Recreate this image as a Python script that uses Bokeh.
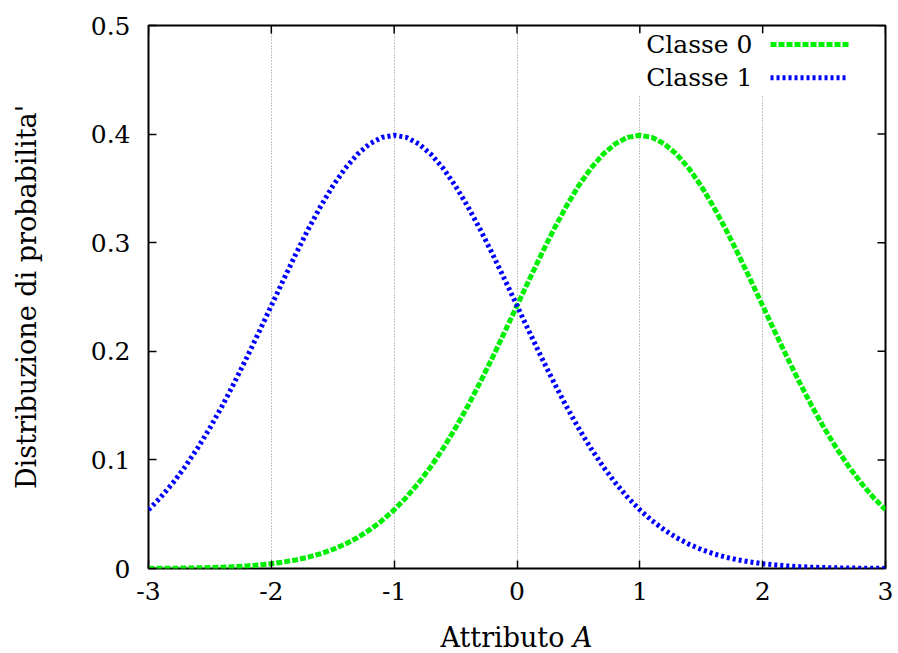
from bokeh.plotting import figure
from bokeh.layouts import column
from bokeh.models import (FixedTicker, Label, BoxAnnotation, Arrow, Range1d, Div)
from bokeh.embed import file_html
from bokeh.resources import INLINE

# Attribute values and class-conditional densities
attr = [round(-3 + 0.1 * i, 1) for i in range(61)]
classe0 = [0.0001, 0.0002, 0.0003, 0.0004, 0.0006, 0.0009, 0.0012, 0.0017, 0.0024, 0.0033,
           0.0044, 0.0060, 0.0079, 0.0104, 0.0136, 0.0175, 0.0224, 0.0283, 0.0355, 0.0440,
           0.0540, 0.0656, 0.0790, 0.0940, 0.1109, 0.1295, 0.1497, 0.1714, 0.1942, 0.2179,
           0.2420, 0.2661, 0.2897, 0.3123, 0.3332, 0.3521, 0.3683, 0.3814, 0.3910, 0.3970,
           0.3989, 0.3970, 0.3910, 0.3814, 0.3683, 0.3521, 0.3332, 0.3123, 0.2897, 0.2661,
           0.2420, 0.2179, 0.1942, 0.1714, 0.1497, 0.1295, 0.1109, 0.0940, 0.0790, 0.0656,
           0.0540]
classe1 = [0.0540, 0.0656, 0.0790, 0.0940, 0.1109, 0.1295, 0.1497, 0.1714, 0.1942, 0.2179,
           0.2420, 0.2661, 0.2897, 0.3123, 0.3332, 0.3521, 0.3683, 0.3814, 0.3910, 0.3970,
           0.3989, 0.3970, 0.3910, 0.3814, 0.3683, 0.3521, 0.3332, 0.3123, 0.2897, 0.2661,
           0.2420, 0.2179, 0.1942, 0.1714, 0.1497, 0.1295, 0.1109, 0.0940, 0.0790, 0.0656,
           0.0540, 0.0440, 0.0355, 0.0283, 0.0224, 0.0175, 0.0136, 0.0104, 0.0079, 0.0060,
           0.0044, 0.0033, 0.0024, 0.0017, 0.0012, 0.0009, 0.0006, 0.0004, 0.0003, 0.0002,
           0.0001]

x_ticks = [-3, -2, -1, 0, 1, 2, 3]
x_tick_labels = {-3: "-3", -2: "-2", -1: "-1", 0: "0", 1: "1", 2: "2", 3: "3"}
y_ticks = [0, 0.1, 0.2, 0.3, 0.4, 0.5]
y_tick_labels = {0: "0", 0.1: "0.1", 0.2: "0.2", 0.3: "0.3", 0.4: "0.4", 0.5: "0.5"}
series_names = ["Classe 0", "Classe 1"]

FONT = "DejaVu Serif"
FS = "25px"
TITLE_FS = "27px"
GREEN = "#00ee00"
BLUE = "#0000ff"
X0, X1, Y0, Y1 = -3, 3, 0, 0.5

p = figure(width=898, height=622, output_backend="svg", toolbar_location=None,
           x_range=Range1d(X0, X1), y_range=Range1d(Y0, Y1),
           min_border_left=148, min_border_right=13, min_border_top=25, min_border_bottom=54)
p.background_fill_color = "white"
p.border_fill_color = "white"
p.outline_line_color = "black"
p.outline_line_width = 2

# vertical dotted grid only
p.xgrid.ticker = FixedTicker(ticks=x_ticks)
p.xgrid.grid_line_color = "#888888"
p.xgrid.grid_line_dash = "1 2"
p.xgrid.grid_line_width = 1
p.ygrid.visible = False


def style_axis(ax, ticks):
    ax.ticker = FixedTicker(ticks=ticks)
    ax.axis_line_color = None
    ax.major_tick_in = 8
    ax.major_tick_out = 0
    ax.major_tick_line_color = "black"
    ax.major_tick_line_width = 1.5
    ax.minor_tick_line_color = None
    ax.major_label_text_font = FONT
    ax.major_label_text_font_size = FS
    ax.major_label_text_color = "black"


style_axis(p.xaxis[0], x_ticks)
p.xaxis[0].major_label_standoff = 13
p.xaxis[0].major_label_overrides = x_tick_labels
style_axis(p.yaxis[0], y_ticks)
p.yaxis[0].major_label_standoff = 18
p.yaxis[0].major_label_overrides = y_tick_labels
p.yaxis[0].axis_label = "Distribuzione di probabilita'"
p.yaxis[0].axis_label_text_font = FONT
p.yaxis[0].axis_label_text_font_size = TITLE_FS
p.yaxis[0].axis_label_text_font_style = "normal"
p.yaxis[0].axis_label_text_color = "black"
p.yaxis[0].axis_label_standoff = 46

# mirrored inward ticks on the top and right edges (8 px long)
tick_dy = 8 * (Y1 - Y0) / 543
tick_dx = 8 * (X1 - X0) / 737
p.segment(x0=x_ticks, y0=[Y1] * len(x_ticks), x1=x_ticks, y1=[Y1 - tick_dy] * len(x_ticks),
          line_color="black", line_width=1.5)
p.segment(x0=[X1] * len(y_ticks), y0=y_ticks, x1=[X1 - tick_dx] * len(y_ticks), y1=y_ticks,
          line_color="black", line_width=1.5)

# curves
p.line(attr, classe0, line_color=GREEN, line_width=5, line_dash="6 2")
p.line(attr, classe1, line_color=BLUE, line_width=5, line_dash="3 3")

# key with opaque background, labels to the left of the samples
p.add_layout(BoxAnnotation(left=0.90, right=2.78, bottom=0.436, top=0.4926,
                           fill_color="white", fill_alpha=1.0, line_color=None))
key_y = [0.4825, 0.452]
for name, col, dash, ky in zip(series_names, [GREEN, BLUE], ["6 2", "3 3"], key_y):
    p.add_layout(Label(x=1.917, y=ky, text=name, text_align="right", text_baseline="middle",
                       text_font=FONT, text_font_size=FS, text_color="black"))
    p.add_layout(Arrow(end=None, x_start=2.064, y_start=ky, x_end=2.699, y_end=ky,
                       line_color=col, line_width=5, line_dash=dash))

# x axis title "Attributo A" (italic A), centred under the plot frame
xtitle = Div(text=('<div style="width:898px;box-sizing:border-box;padding-left:135px;'
                   'text-align:center;font-family:\'DejaVu Serif\';font-size:27px;'
                   'line-height:31px;color:black;margin:0">Attributo <i>A</i></div>'),
             width=898, height=31, margin=0)

layout = column(p, xtitle, spacing=0)
open("out.html", "w").write(file_html(layout, INLINE))
